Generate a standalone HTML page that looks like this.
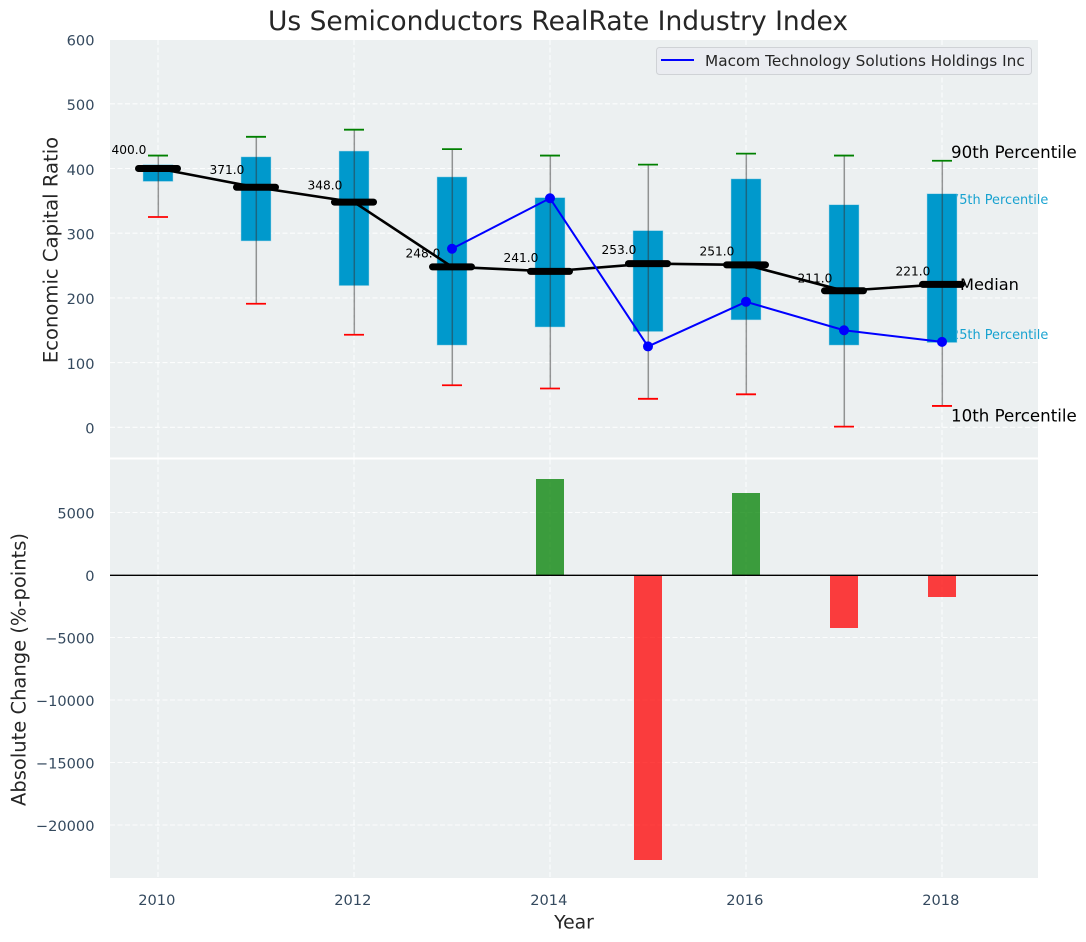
<!DOCTYPE html>
<html>
<head>
<meta charset="utf-8">
<title>Us Semiconductors RealRate Industry Index</title>
<style>
html,body{margin:0;padding:0;background:#fff;}
svg{display:block;}
text{font-family:"DejaVu Sans","Liberation Sans",sans-serif;}
</style>
</head>
<body>
<svg id="chart" width="1086" height="942" viewBox="0 0 1086 942" xmlns="http://www.w3.org/2000/svg">
<defs>
<clipPath id="clip-top"><rect x="110" y="40" width="928" height="417.5"/></clipPath>
<clipPath id="clip-bottom"><rect x="110" y="459.5" width="928" height="418.5"/></clipPath>
</defs>
<rect x="110" y="40" width="928" height="417.5" fill="#ecf0f1"/>
<rect x="110" y="459.5" width="928" height="418.5" fill="#ecf0f1"/>
<g id="grid"></g>
<g id="side" font-size="16.67" fill="#000">
<text x="951" y="158">90th Percentile</text>
<text x="960" y="290" font-size="16.2">Median</text>
<text x="951" y="421.5">10th Percentile</text>
<text x="951" y="204" font-size="12.9" fill="#0099cc" fill-opacity="0.9">75th Percentile</text>
<text x="951" y="339" font-size="12.9" fill="#0099cc" fill-opacity="0.9">25th Percentile</text>
</g>
<g id="marks"></g>
<g id="axes"></g>
<text x="558" y="30" text-anchor="middle" font-size="26.5" fill="#262626">Us Semiconductors RealRate Industry Index</text>
<text transform="translate(57.5,250) rotate(-90)" text-anchor="middle" font-size="19.6" fill="#262626">Economic Capital Ratio</text>
<text transform="translate(25.5,669.5) rotate(-90)" text-anchor="middle" font-size="19.5" fill="#262626">Absolute Change (%-points)</text>
<text x="574" y="928.5" text-anchor="middle" font-size="18.8" fill="#262626">Year</text>
<g>
<rect x="656.5" y="47.5" width="375" height="27" rx="3" fill="#eaecf1" stroke="#cfd2d6" stroke-width="1"/>
<line x1="661" y1="60" x2="694" y2="60" stroke="#0000ff" stroke-width="2"/>
<text x="705" y="66" font-size="15.3" fill="#262626">Macom Technology Solutions Holdings Inc</text>
</g>
</svg>
<script>
const years = [2010, 2011, 2012, 2013, 2014, 2015, 2016, 2017, 2018];
const medianValues = [400, 371, 348, 248, 241, 253, 251, 211, 221];
const q75Values = [406, 418, 427, 387, 355, 304, 384, 344, 361];
const q25Values = [380, 288, 219, 127, 155, 148, 166, 127, 131];
const p90Values = [420, 449, 460, 430, 420, 406, 423, 420, 412];
const p10Values = [325, 191, 143, 65, 60, 44, 51, 1, 33];
const companyYears = [2013, 2014, 2015, 2016, 2017, 2018];
const companyValues = [276, 354, 125, 194, 150, 132];
const changeYears = [2014, 2015, 2016, 2017, 2018];
const changeValues = [7680, -22800, 6560, -4240, -1760];
const topTicks = [0, 100, 200, 300, 400, 500, 600];
const bottomTicks = [-20000, -15000, -10000, -5000, 0, 5000];
const xTicks = [2010, 2012, 2014, 2016, 2018];

const NS = 'http://www.w3.org/2000/svg';
function X(year) { return 158 + (year - 2010) * 98; }
function Y(value) { return 427.3 - value * 0.647; }
function Y2(value) { return 575 - value * 0.0125; }
function make(tag, parent, attrs) {
  const el = document.createElementNS(NS, tag);
  for (const k in attrs) el.setAttribute(k, attrs[k]);
  parent.appendChild(el);
  return el;
}
const grid = document.getElementById('grid');
const marks = document.getElementById('marks');
const axes = document.getElementById('axes');
const gridStyle = { stroke: '#ffffff', 'stroke-width': 1.1, 'stroke-dasharray': '5 2.5', 'stroke-opacity': 0.85 };
const tickColor = '#34495e';

topTicks.forEach(function (t) {
  const g = make('line', grid, Object.assign({ x1: 110, x2: 1038, y1: Y(t), y2: Y(t), 'clip-path': 'url(#clip-top)' }, gridStyle));
  
  
  const l = make('text', axes, { x: 94.5, y: Y(t) + 6.3, 'text-anchor': 'end', 'font-size': 14.6, fill: tickColor });
  l.textContent = String(t);
  
  
});
bottomTicks.forEach(function (t) {
  const g = make('line', grid, Object.assign({ x1: 110, x2: 1038, y1: Y2(t), y2: Y2(t) }, gridStyle));
  
  
  const l = make('text', axes, { x: 94.5, y: Y2(t) + 6, 'text-anchor': 'end', 'font-size': 14.6, fill: tickColor });
  l.textContent = String(t).replace('-', '\u2212');
  
  
});
xTicks.forEach(function (t) {
  const g1 = make('line', grid, Object.assign({ x1: X(t), x2: X(t), y1: 40, y2: 457.5 }, gridStyle));
  
  
  const g2 = make('line', grid, Object.assign({ x1: X(t), x2: X(t), y1: 459.5, y2: 878 }, gridStyle));
  
  
  const l = make('text', axes, { x: X(t) - 1.2, y: 905, 'text-anchor': 'middle', 'font-size': 14.6, fill: tickColor });
  l.textContent = String(t);
  
  
});

years.forEach(function (yr, i) {
  const b = make('rect', marks, {
    x: X(yr) - 15, width: 30, y: Y(q75Values[i]), height: Y(q25Values[i]) - Y(q75Values[i]),
    fill: '#0099cc', stroke: '#a9d8e8', 'stroke-width': 0.6, 'stroke-opacity': 0.8
  });
  
  
});
years.forEach(function (yr, i) {
  const w = make('line', marks, { x1: X(yr) + 0.3, x2: X(yr) + 0.3, y1: Y(p90Values[i]), y2: Y(p10Values[i]), stroke: '#333', 'stroke-opacity': 0.5, 'stroke-width': 1.5 });
  
  
  const c1 = make('line', marks, { x1: X(yr) - 10, x2: X(yr) + 10, y1: Y(p90Values[i]), y2: Y(p90Values[i]), stroke: '#008000', 'stroke-width': 1.8 });
  
  
  const c2 = make('line', marks, { x1: X(yr) - 10, x2: X(yr) + 10, y1: Y(p10Values[i]), y2: Y(p10Values[i]), stroke: '#ff0000', 'stroke-width': 1.8 });
  
  
  const t = make('text', marks, { x: X(yr) - 29, y: Y(medianValues[i] * 1.05) - 1.5, 'text-anchor': 'middle', 'font-size': 12.2, fill: '#000' });
  t.textContent = medianValues[i].toFixed(1);
  
  
});
const medianLine = make('polyline', marks, {
  points: years.map(function (yr, i) { return X(yr) + ',' + Y(medianValues[i]); }).join(' '),
  fill: 'none', stroke: '#000', 'stroke-width': 2.6
});


years.forEach(function (yr, i) {
  const m = make('line', marks, { x1: X(yr) - 19.5, x2: X(yr) + 19.5, y1: Y(medianValues[i]), y2: Y(medianValues[i]), stroke: '#000', 'stroke-width': 7, 'stroke-linecap': 'round' });
  
  
});
const companyLine = make('polyline', marks, {
  points: companyYears.map(function (yr, i) { return X(yr) + ',' + Y(companyValues[i]); }).join(' '),
  fill: 'none', stroke: '#0000ff', 'stroke-width': 2
});


companyYears.forEach(function (yr, i) {
  const d = make('circle', marks, { cx: X(yr), cy: Y(companyValues[i]), r: 5, fill: '#0000ff' });
  
  
});
changeYears.forEach(function (yr, i) {
  const v = changeValues[i];
  const r = make('rect', marks, {
    x: X(yr) - 14, width: 28, y: Math.min(Y2(v), Y2(0)), height: Math.abs(Y2(v) - Y2(0)),
    fill: v >= 0 ? '#008000' : '#ff0000', 'fill-opacity': 0.75, 'clip-path': 'url(#clip-bottom)'
  });
  
  
});
const zero = make('line', marks, { x1: 110, x2: 1038, y1: Y2(0) + 0.3, y2: Y2(0) + 0.3, stroke: '#000', 'stroke-width': 1.4 });


</script>
</body>
</html>
